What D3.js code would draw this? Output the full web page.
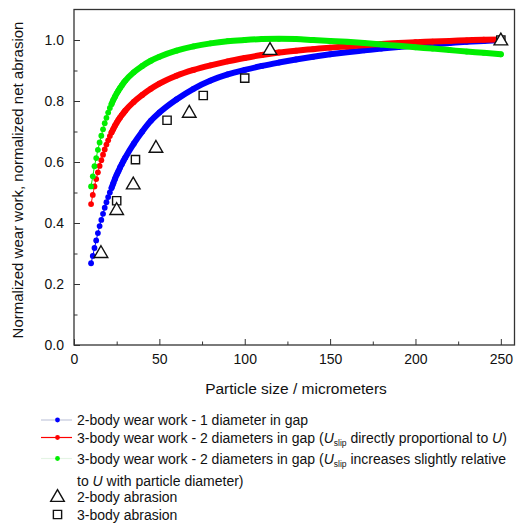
<!DOCTYPE html>
<html>
<head>
<meta charset="utf-8">
<script src="https://cdn.jsdelivr.net/npm/d3@7"></script>
<style>
  body { margin: 0; background: #fff; }
  svg { display: block; font-family: Arial, 'Liberation Sans', sans-serif; }
  .axis path, .axis line { stroke: #333; }
</style>
</head>
<body>
<script>
// particle size (micrometers) at which the model curves are read
const sizes = [10, 11, 12, 13, 14, 15, 16, 17, 18, 19, 20, 21, 22, 23, 24, 25, 26, 27, 28, 29, 30,
  35, 40, 45, 50, 60, 70, 80, 90, 100, 110, 120, 130, 140, 150, 160, 170, 180, 190, 200, 210, 220, 230, 240, 250];

const twoBody = [0.268, 0.292, 0.318, 0.343, 0.367, 0.39, 0.41, 0.43, 0.45, 0.468, 0.485, 0.5, 0.515, 0.53, 0.545, 0.558, 0.57, 0.582, 0.593, 0.604, 0.614,
  0.66, 0.7, 0.735, 0.762, 0.805, 0.84, 0.867, 0.887, 0.902, 0.915, 0.926, 0.936, 0.945, 0.953, 0.96, 0.966, 0.972, 0.977, 0.982, 0.986, 0.99, 0.994, 0.997, 1.0];

const threeBody = [0.462, 0.492, 0.52, 0.544, 0.566, 0.587, 0.606, 0.624, 0.641, 0.657, 0.671, 0.685, 0.697, 0.708, 0.719, 0.729, 0.738, 0.746, 0.754, 0.761, 0.768,
  0.797, 0.82, 0.84, 0.857, 0.883, 0.902, 0.917, 0.93, 0.941, 0.951, 0.959, 0.965, 0.97, 0.975, 0.979, 0.983, 0.987, 0.99, 0.993, 0.995, 0.997, 0.999, 1.001, 1.002];

const threeBodySlip = [0.52, 0.553, 0.586, 0.613, 0.64, 0.664, 0.686, 0.707, 0.727, 0.745, 0.762, 0.777, 0.79, 0.803, 0.814, 0.825, 0.834, 0.843, 0.851, 0.859, 0.866,
  0.894, 0.915, 0.932, 0.945, 0.965, 0.979, 0.989, 0.996, 1.0, 1.003, 1.004, 1.003, 1.0, 0.997, 0.994, 0.99, 0.985, 0.981, 0.976, 0.972, 0.967, 0.962, 0.958, 0.953];

// measured abrasion
const abr2Size = [15.8, 25, 34.7, 48, 67.5, 114.8, 250];
const abr2Value = [0.303, 0.444, 0.528, 0.648, 0.763, 0.969, 1.0];
const abr3Size = [25, 36, 54.5, 75.7, 100, 250];
const abr3Value = [0.473, 0.608, 0.737, 0.818, 0.875, 1.0];

const xTicks = [0, 50, 100, 150, 200, 250];
const yTicks = [0, 0.2, 0.4, 0.6, 0.8, 1.0];

const margin = { top: 9.5, right: 1.5, bottom: 179, left: 74 };
const width = 516 - margin.left - margin.right;
const height = 524 - margin.top - margin.bottom;

const x = d3.scaleLinear().domain([0, 258]).range([0, width]);
const y = d3.scaleLinear().domain([0, 1.1]).range([height, 0]);

const root = d3.select('body').append('svg')
  .attr('width', 516)
  .attr('height', 524);

const svg = root.append('g')
  .attr('transform', 'translate(' + margin.left + ',' + margin.top + ')');

// frame
svg.append('rect')
  .attr('width', width)
  .attr('height', height)
  .attr('fill', 'none')
  .attr('stroke', '#333')
  .attr('stroke-width', 1.3);

// minor ticks
svg.append('g').attr('class', 'axis')
  .attr('transform', 'translate(0,' + height + ')')
  .call(d3.axisBottom(x).tickValues([25, 75, 125, 175, 225]).tickSize(-3.5).tickFormat(''))
  .call(g => g.select('.domain').remove());
svg.append('g').attr('class', 'axis')
  .call(d3.axisLeft(y).tickValues([0.1, 0.3, 0.5, 0.7, 0.9]).tickSize(-3.5).tickFormat(''))
  .call(g => g.select('.domain').remove());

// major ticks + labels
const xAxis = svg.append('g').attr('class', 'axis')
  .attr('transform', 'translate(0,' + height + ')')
  .call(d3.axisBottom(x).tickValues(xTicks).tickSize(-6).tickPadding(9).tickFormat(d3.format('d')));
xAxis.select('.domain').remove();
xAxis.selectAll('text').style('font-size', '14px').style('fill', '#111');

const yAxis = svg.append('g').attr('class', 'axis')
  .call(d3.axisLeft(y).tickValues(yTicks).tickSize(-6).tickPadding(10).tickFormat(d3.format('.1f')));
yAxis.select('.domain').remove();
yAxis.selectAll('text').style('font-size', '14px').style('fill', '#111');

// axis titles
root.append('text')
  .attr('x', 296)
  .attr('y', 393.5)
  .attr('text-anchor', 'middle')
  .style('font-size', '15.5px')
  .style('fill', '#111')
  .text('Particle size / micrometers');

root.append('text')
  .attr('transform', 'translate(23,180) rotate(-90)')
  .attr('text-anchor', 'middle')
  .style('font-size', '15px')
  .style('fill', '#111')
  .text('Normalized wear work, normalized net abrasion');

const series = [
  { values: twoBody, color: '#0000ff', legendLine: '#c4c8dc' },
  { values: threeBody, color: '#ff0000', legendLine: '#ff0000' },
  { values: threeBodySlip, color: '#00ee00', legendLine: '#e4f4e4' }
];

const plot = svg.append('g');

series.forEach(function (s) {
  const pts = sizes.map(function (d, i) { return [d, s.values[i]]; });
  const line = d3.line()
    .x(function (d) { return x(d[0]); })
    .y(function (d) { return y(d[1]); })
    .curve(d3.curveMonotoneX);

  plot.append('path')
    .datum(pts)
    .attr('d', line)
    .attr('fill', 'none')
    .attr('stroke', s.color)
    .attr('stroke-width', 1);

  // dense part of the dotted curve merges into a thick band
  plot.append('path')
    .datum(pts.filter(function (d) { return d[0] >= 22; }))
    .attr('d', line)
    .attr('fill', 'none')
    .attr('stroke', s.color)
    .attr('stroke-width', 6)
    .attr('stroke-linecap', 'round');

  plot.selectAll(null)
    .data(pts)
    .enter()
    .append('circle')
    .attr('cx', function (d) { return x(d[0]); })
    .attr('cy', function (d) { return y(d[1]); })
    .attr('r', 2.9)
    .attr('fill', s.color);
});

const tri = d3.symbol().type(d3.symbolTriangle).size(80);
const sq = d3.symbol().type(d3.symbolSquare).size(68);

plot.selectAll('.sq')
  .data(abr3Size)
  .enter()
  .append('path')
  .attr('class', 'sq')
  .attr('d', sq)
  .attr('transform', function (d, i) { return 'translate(' + x(d) + ',' + y(abr3Value[i]) + ')'; })
  .attr('fill', '#fff')
  .attr('stroke', '#111')
  .attr('stroke-width', 1.4);

plot.selectAll('.tri')
  .data(abr2Size)
  .enter()
  .append('path')
  .attr('class', 'tri')
  .attr('d', tri)
  .attr('transform', function (d, i) { return 'translate(' + x(d) + ',' + (y(abr2Value[i]) + 1) + ')'; })
  .attr('fill', '#fff')
  .attr('stroke', '#111')
  .attr('stroke-width', 1.4);

// legend
const legend = root.append('g').style('font-size', '14px').style('fill', '#111');
const rows = [420, 437.5, 458.5];

function slipText(t, parts) {
  parts.forEach(function (p) {
    const ts = t.append('tspan').text(p.t);
    if (p.i) ts.style('font-style', 'italic');
    if (p.sub) ts.attr('baseline-shift', '-30%').style('font-size', '8.5px');
  });
}

series.forEach(function (s, i) {
  legend.append('line')
    .attr('x1', 41).attr('x2', 72)
    .attr('y1', rows[i]).attr('y2', rows[i])
    .attr('stroke', s.legendLine)
    .attr('stroke-width', 1.2);
  legend.append('circle')
    .attr('cx', 57.5).attr('cy', rows[i])
    .attr('r', 2.4)
    .attr('fill', s.color);
});

legend.append('text').attr('x', 77).attr('y', rows[0] + 5)
  .text('2-body wear work - 1 diameter in gap');

slipText(legend.append('text').attr('x', 77).attr('y', rows[1] + 5), [
  { t: '3-body wear work - 2 diameters in gap (' }, { t: 'U', i: true }, { t: 'slip', sub: true },
  { t: ' directly proportional to ' }, { t: 'U', i: true }, { t: ')' }
]);

slipText(legend.append('text').attr('x', 77).attr('y', rows[2] + 5), [
  { t: '3-body wear work - 2 diameters in gap (' }, { t: 'U', i: true }, { t: 'slip', sub: true },
  { t: ' increases slightly relative' }
]);

slipText(legend.append('text').attr('x', 77).attr('y', 486), [
  { t: 'to ' }, { t: 'U', i: true }, { t: ' with particle diameter)' }
]);

legend.append('path').attr('d', tri)
  .attr('transform', 'translate(57.5,497.5)')
  .attr('fill', '#fff').attr('stroke', '#111').attr('stroke-width', 1.4);
legend.append('text').attr('x', 77).attr('y', 502).text('2-body abrasion');

legend.append('path').attr('d', sq)
  .attr('transform', 'translate(57.5,514.5)')
  .attr('fill', '#fff').attr('stroke', '#111').attr('stroke-width', 1.4);
legend.append('text').attr('x', 77).attr('y', 519.5).text('3-body abrasion');
</script>
</body>
</html>
